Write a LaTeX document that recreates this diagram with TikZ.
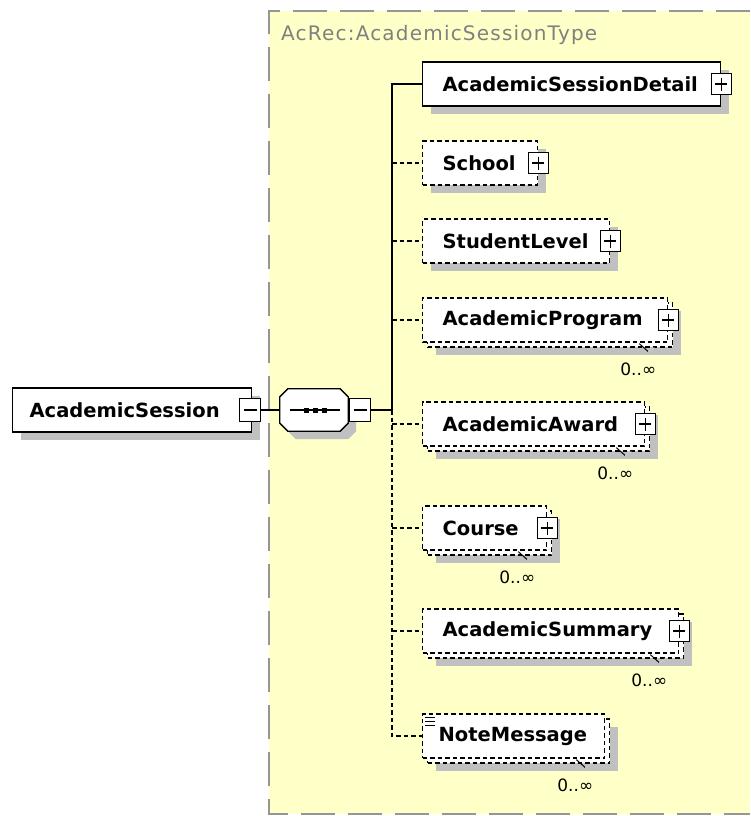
\documentclass[tikz,border=0pt]{standalone}
\usepackage{fontspec}
\newfontfamily\xsfont{DejaVu Sans}
\newfontfamily\xstitlefont[LetterSpace=6]{DejaVu Sans}
\usetikzlibrary{shadows}
\usetikzlibrary{positioning}
\usetikzlibrary{calc}
\definecolor{typebg}{RGB}{255,255,200}
\definecolor{typeborder}{RGB}{150,150,150}
\definecolor{shadowgray}{RGB}{192,192,192}
\definecolor{titlegray}{RGB}{128,128,128}
\tikzstyle{elem}=[draw=black, line width=1.3pt, fill=white, anchor=west, minimum height=44pt, inner xsep=20pt, inner ysep=0pt, align=left, font={\xsfont\bfseries\fontsize{19.5}{22}\selectfont}]
\tikzstyle{optelem}=[elem, dash pattern=on 4.5pt off 3pt]
\tikzstyle{boxshadow}=[general shadow={fill=shadowgray, shadow xshift=8pt, shadow yshift=-8pt}]
\tikzstyle{repelem}=[optelem, general shadow={fill=shadowgray, shadow xshift=13pt, shadow yshift=-13pt}, general shadow={fill=white, draw=black, line width=1.3pt, dash pattern=on 4.5pt off 3pt, shadow xshift=5pt, shadow yshift=-5pt}]
\tikzstyle{seqbox}=[minimum width=68pt, minimum height=42pt, inner sep=0pt]
\tikzstyle{seqdot}=[fill=black, minimum size=5pt, inner sep=0pt]
\tikzstyle{plusbox}=[draw=black, solid, line width=1.3pt, fill=white, minimum width=20pt, minimum height=21pt, inner sep=0pt, path picture={\draw[line width=1.3pt] ([xshift=4pt]path picture bounding box.west) -- ([xshift=-4pt]path picture bounding box.east) ([yshift=-4pt]path picture bounding box.north) -- ([yshift=4pt]path picture bounding box.south);}]
\tikzstyle{minusbox}=[draw=black, solid, line width=1.3pt, fill=white, minimum width=21pt, minimum height=23pt, inner sep=0pt, path picture={\draw[line width=1.3pt] ([xshift=4pt]path picture bounding box.west) -- ([xshift=-4pt]path picture bounding box.east);}]
\tikzstyle{conn}=[draw, line width=1.3pt]
\tikzstyle{optconn}=[conn, dash pattern=on 4.5pt off 3pt]
\tikzstyle{mult}=[font={\xsfont\fontsize{17}{20}\selectfont}, inner sep=0pt]
\tikzstyle{typename}=[font={\xstitlefont\fontsize{20}{22}\selectfont}, text=titlegray, anchor=west, inner sep=0pt]

\begin{document}
\begin{tikzpicture}[x=1pt, y=-1pt]
  \useasboundingbox (0,0) rectangle (750,816);

% type area
  \fill[typebg] (269,11) rectangle (750,814);
  \draw[typeborder, line width=1.5pt, dash pattern=on 34pt off 13pt] (750,11) -- (269,11) -- (269,814) -- (750,814);
  \node[typename] (tname) at (281,35) {AcRec:AcademicSessionType};

% root and sequence
  \node[elem, boxshadow, text width=205pt, inner xsep=17pt] (session) at (12,410) {AcademicSession};
  \node[minusbox] (session-m) at ([xshift=-2pt]session.east) {};
  \node[seqbox] (seq) at (314,410) {};
  \fill[shadowgray, transform canvas={shift={(8pt,-8pt)}}] ([xshift=8pt]seq.north west) -- ([xshift=-8pt]seq.north east) -- ([yshift=-8pt]seq.north east) -- ([yshift=8pt]seq.south east) -- ([xshift=-8pt]seq.south east) -- ([xshift=8pt]seq.south west) -- ([yshift=8pt]seq.south west) -- ([yshift=-8pt]seq.north west) -- cycle;
  \draw[line width=1.3pt, fill=white] ([xshift=8pt]seq.north west) -- ([xshift=-8pt]seq.north east) -- ([yshift=-8pt]seq.north east) -- ([yshift=8pt]seq.south east) -- ([xshift=-8pt]seq.south east) -- ([xshift=8pt]seq.south west) -- ([yshift=8pt]seq.south west) -- ([yshift=-8pt]seq.north west) -- cycle;
  \node[minusbox] (seq-m) at ([xshift=12pt]seq.east) {};
  \draw[line width=1.3pt] ([xshift=-24pt]seq.center) -- ([xshift=26pt]seq.center);
  \foreach \dx/\n in {-8/a, 1/b, 10/c}
    \node[seqdot] (seqdot-\n) at ([xshift=\dx pt]seq.center) {};
  \coordinate (bus) at (392,410);

% children
  \node[elem, boxshadow, text width=258pt] (detail) at (422,84) {AcademicSessionDetail};
  \node[plusbox] (detail-p) at (detail.east) {};

  \foreach \pos/\name/\w/\txt in {{(422,163)/school/115/School}, {(422,241)/level/187/StudentLevel}} {
    \pgfmathsetmacro\tw{\w-40}
    \node[optelem, boxshadow, text width=\tw pt] (\name) at \pos {\txt};
    \node[plusbox] (\name-p) at (\name.east) {};
  }

  \foreach \pos/\name/\w/\txt in {{(422,320)/program/245/AcademicProgram}, {(422,424)/award/222/AcademicAward}, {(422,528)/course/124/Course}, {(422,631)/summary/256/AcademicSummary}} {
    \pgfmathsetmacro\tw{\w-40}
    \node[repelem, text width=\tw pt] (\name) at \pos {\txt};
    \node[plusbox] (\name-p) at (\name.east) {};
  }

  \node[repelem, text width=150pt, inner xsep=16pt] (note) at (422,736) {NoteMessage};
  \foreach \dy in {4,8,12}
    \draw[line width=1pt] ([xshift=3pt, yshift=-\dy pt]note.north west) -- ++(10,0);

% multiplicity
  \foreach \name in {program, award, course, summary, note} {
    \node[mult] (\name-n) at ([xshift=-30pt, yshift=-27pt]\name.south east) {0..∞};
    \draw[line width=1pt] ([xshift=-29pt, yshift=-1pt]\name.south east) -- ++(9,8) coordinate (\name-t);
    \draw[line width=1pt, black!20] (\name-t) -- ++(6,-4);
  }

% connectors
  \draw[conn] (session-m.east) -- (seq.west);
  \draw[conn] (seq-m.east) -- (bus);
  \draw[conn] (bus) |- (detail.west);
  \draw[optconn] (bus) |- (note.west);
  \foreach \name in {school, level, program, award, course, summary}
    \draw[optconn] (\name.west -| bus) -- (\name.west);

\end{tikzpicture}
\end{document}
